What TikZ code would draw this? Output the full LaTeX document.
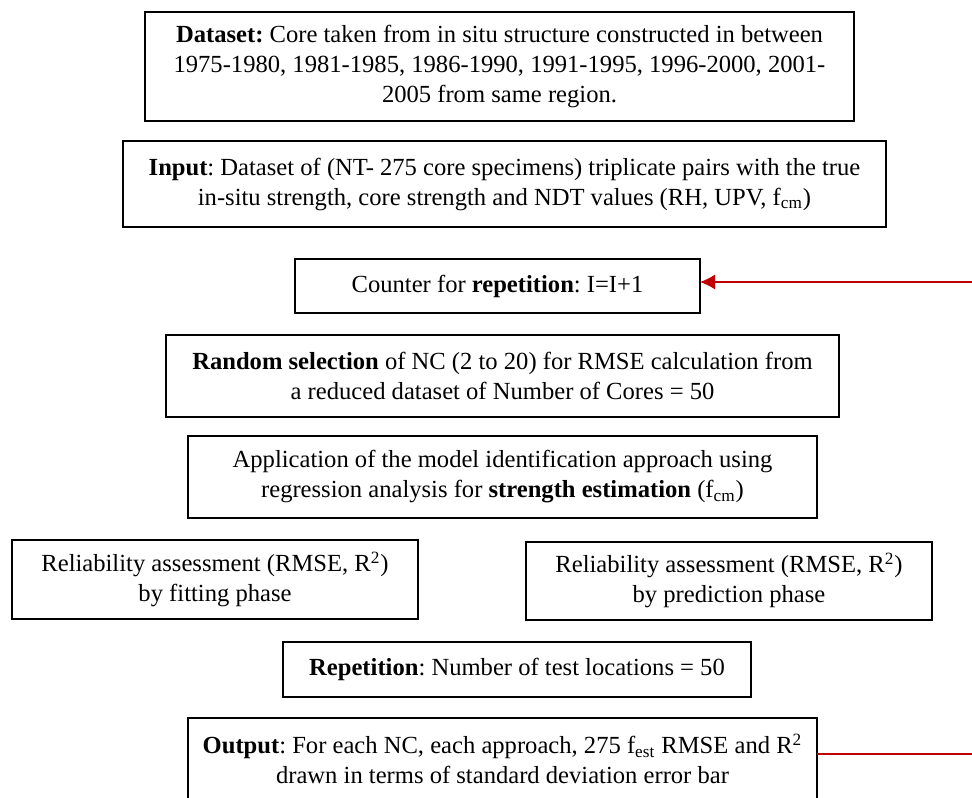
\documentclass[tikz,border=0pt]{standalone}
\usepackage{fontspec}
\setmainfont{Liberation Serif}
\usepackage{xcolor}
\usetikzlibrary{arrows.meta,positioning}
\definecolor{loopred}{RGB}{192,0,0}
\frenchspacing

\begin{document}
\begin{tikzpicture}[
    node distance=10pt,
    stepbox/.style={rectangle, draw, line width=1pt, inner sep=2pt, outer sep=0pt, align=center, font=\fontsize{12.3}{15}\selectfont},
    loop_arrow/.style={-{Latex[length=7.5pt,width=7.5pt]}, line width=0.6pt, draw=loopred, fill=loopred},
    loop_line/.style={line width=0.6pt, draw=loopred},
]
\useasboundingbox (0,0) rectangle (486pt,-398.5pt);

% === DATA AND INPUT ===
\node[stepbox, minimum width=354.5pt, minimum height=54.5pt] (dataset) at (249.75pt,-33.25pt) {\textbf{Dataset:} Core taken from in situ structure constructed in between\\1975-1980, 1981-1985, 1986-1990, 1991-1995, 1996-2000, 2001-\\2005 from same region.};
\node[stepbox, minimum width=381.5pt, minimum height=43pt, below=10pt of dataset, xshift=2.5pt] (input) {\textbf{Input}: Dataset of (NT- 275 core specimens) triplicate pairs with the true\\in-situ strength, core strength and NDT values (RH, UPV, f\textsubscript{cm})};

% === REPETITION LOOP ===
\node[stepbox, minimum width=202.5pt, minimum height=27pt, below=16pt of input, xshift=-3.5pt] (counter) {Counter for \textbf{repetition}: I=I+1};
\node[stepbox, minimum width=336.5pt, minimum height=41pt, below=11pt of counter, xshift=2.5pt] (selection) {\textbf{Random selection} of NC (2 to 20) for RMSE calculation from\\a reduced dataset of Number of Cores = 50};
\node[stepbox, minimum width=314.5pt, minimum height=41pt, below=9.5pt of selection] (model) {Application of the model identification approach using\\regression analysis for \textbf{strength estimation} (f\textsubscript{cm})};

% === RELIABILITY ===
\node[stepbox, minimum width=203pt, minimum height=39.5pt, below=11pt of model, xshift=-143.75pt] (fitting) {Reliability assessment (RMSE, R\textsuperscript{2})\\by fitting phase};
\node[stepbox, minimum width=203pt, minimum height=39pt, right=54pt of fitting, yshift=-0.5pt] (prediction) {Reliability assessment (RMSE, R\textsuperscript{2})\\by prediction phase};

% === REPETITION AND OUTPUT ===
\node[stepbox, minimum width=234pt, minimum height=27.5pt, below=62pt of model, xshift=7.25pt] (repetition) {\textbf{Repetition}: Number of test locations = 50};
\node[stepbox, minimum width=314.5pt, minimum height=41pt, below=10.5pt of repetition, xshift=-7.25pt] (output) {\textbf{Output}: For each NC, each approach, 275 f\textsubscript{est} RMSE and R\textsuperscript{2}\\drawn in terms of standard deviation error bar};

% === LOOP CONNECTORS ===
\coordinate (loopin) at (486pt,-141pt);
\coordinate (loopout) at (486pt,-377pt);
\draw[loop_arrow] (loopin) -- (counter.east |- loopin);
\draw[loop_line] (output.east |- loopout) -- (loopout);

\end{tikzpicture}
\end{document}
